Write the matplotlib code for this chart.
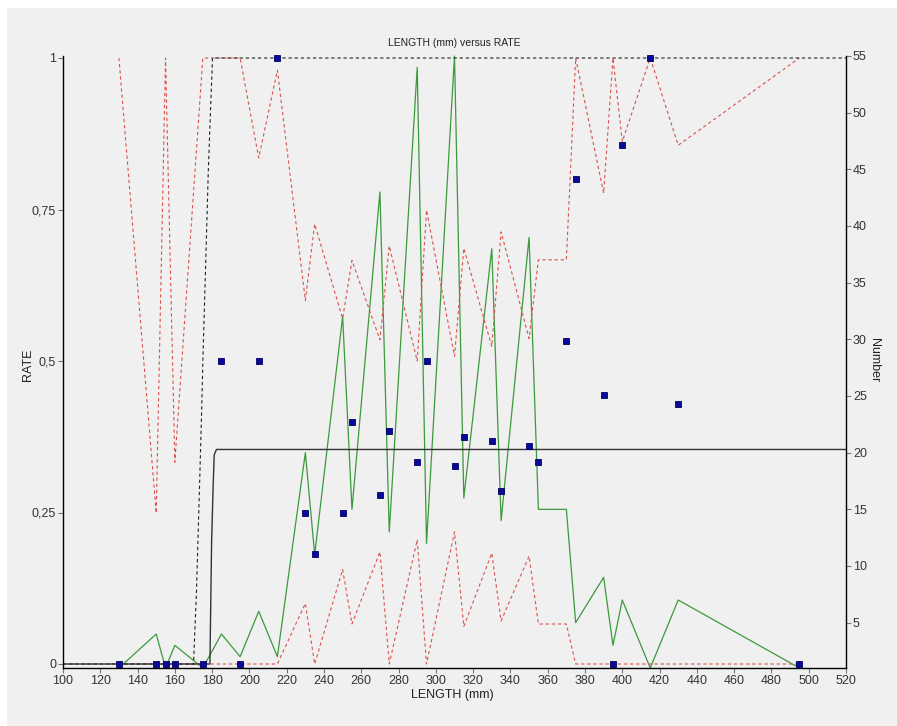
import matplotlib
matplotlib.use("Agg")
import matplotlib.pyplot as plt
import matplotlib.patches as patches

plt.rcParams['font.family'] = ['Liberation Sans', 'DejaVu Sans']

# observed length classes, number of fish and rate
length = [130, 150, 155, 160, 175, 185, 195, 205, 215, 230, 235, 250, 255, 270, 275,
          290, 295, 310, 315, 330, 335, 350, 355, 370, 375, 390, 395, 400, 415, 430, 495]
number = [1, 4, 1, 3, 1, 4, 2, 6, 2, 20, 11, 32, 15, 43, 13,
          54, 12, 55, 16, 38, 14, 39, 15, 15, 5, 9, 3, 7, 1, 7, 1]
rate = [0, 0, 0, 0, 0, 0.5, 0, 0.5, 1, 0.25, 0.182, 0.25, 0.4, 0.279, 0.385,
        0.333, 0.5, 0.327, 0.375, 0.368, 0.286, 0.359, 0.333, 0.533, 0.8, 0.444, 0, 0.857, 1, 0.429, 0]

# confidence band around the rate
rate_upper = [1, 0.249, 1, 0.333, 1, 1, 1, 0.835, 0.98, 0.6, 0.726, 0.57, 0.666, 0.535, 0.69,
              0.5, 0.749, 0.508, 0.686, 0.524, 0.713, 0.537, 0.667, 0.667, 1, 0.777, 1, 0.862, 1, 0.856, 1]
rate_lower = [0, 0, 0, 0, 0, 0, 0, 0, 0, 0.1, 0, 0.156, 0.066, 0.185, 0,
              0.205, 0, 0.218, 0.062, 0.183, 0.071, 0.178, 0.066, 0.066, 0, 0, 0, 0, 0, 0, 0]

# fitted curves
curve1_x = [100, 170, 171.6, 173.2, 174.3, 175.2, 176.6, 177.9, 179.2, 180.2, 520]
curve1_y = [0, 0, 0.12, 0.29, 0.41, 0.52, 0.667, 0.81, 0.92, 1, 1]
curve2_x = [100, 178.8, 179.7, 180.5, 181.1, 182.3, 520]
curve2_y = [0, 0, 0.2, 0.29, 0.345, 0.354, 0.354]

x_ticks = list(range(100, 521, 20))
left_ticks = [0, 0.25, 0.5, 0.75, 1]
left_labels = ['0', '0,25', '0,5', '0,75', '1']
right_ticks = list(range(5, 56, 5))

bg = '#f0f0f0'
W, H = 897, 726
fig = plt.figure(figsize=(W / 100, H / 100), dpi=100, facecolor='white')
fig.patches.append(patches.Rectangle((7 / W, 0), 1, 1 - 8 / H, transform=fig.transFigure,
                                     facecolor=bg, edgecolor='none', zorder=-10))

ax = fig.add_axes([63 / W, (H - 668) / H, (846 - 63) / W, (668 - 56) / H])
ax2 = ax.twinx()
ax.set_zorder(ax2.get_zorder() + 1)
ax.patch.set_visible(False)
ax2.patch.set_visible(True)
ax2.patch.set_facecolor(bg)

# number (right axis)
ax2.plot(length, number, color='#3c9a3c', lw=0.9, clip_on=False)

# rate band and curves (left axis)
ax.plot(length, rate_upper, color='#d9534f', lw=0.8, dashes=(3, 2.5))
ax.plot(length, rate_lower, color='#d9534f', lw=0.8, dashes=(3, 2.5))
ax.plot(curve1_x, curve1_y, color='#222222', lw=0.8, dashes=(3, 2.5), clip_on=False)
ax.plot(curve2_x, curve2_y, color='#333333', lw=1.0)
ax.plot(length, rate, ls='none', marker='s', ms=5, mfc='#0a0a9a', mec='#000060', mew=0.6,
        clip_on=False, zorder=5)

ax.set_xlim(100, 520)
ax.set_ylim(-4 / 606, 1 + 2 / 606)
ax2.set_ylim(1, 55)

ax.set_xticks(x_ticks)
ax.set_yticks(left_ticks)
ax.set_yticklabels(left_labels)
ax2.set_yticks(right_ticks)

for a in (ax, ax2):
    a.tick_params(direction='out', length=3.5, width=0.8, color='#777777',
                  labelcolor='#333333', labelsize=9, pad=1.5)
    a.spines['top'].set_visible(False)
ax.spines['right'].set_visible(False)
ax2.spines['left'].set_visible(False)
ax2.spines['bottom'].set_visible(False)
for s in ('left', 'bottom'):
    ax.spines[s].set_color('black')
    ax.spines[s].set_linewidth(1.0)
ax2.spines['right'].set_color('black')
ax2.spines['right'].set_linewidth(1.0)

ax.set_title('LENGTH (mm) versus RATE', fontsize=7.5, color='#222222', pad=7)
ax.set_xlabel('LENGTH (mm)', fontsize=9, color='#222222')
ax.xaxis.set_label_coords(0.497, -0.034)
ax.set_ylabel('RATE', fontsize=9, color='#222222')
ax.yaxis.set_label_coords(-0.037, 0.495)
ax2.set_ylabel('Number', fontsize=9, color='#222222', rotation=270, va='bottom')
ax2.yaxis.set_label_coords(1.028, 0.503)

fig.savefig('out.png', dpi=100, facecolor='white')
